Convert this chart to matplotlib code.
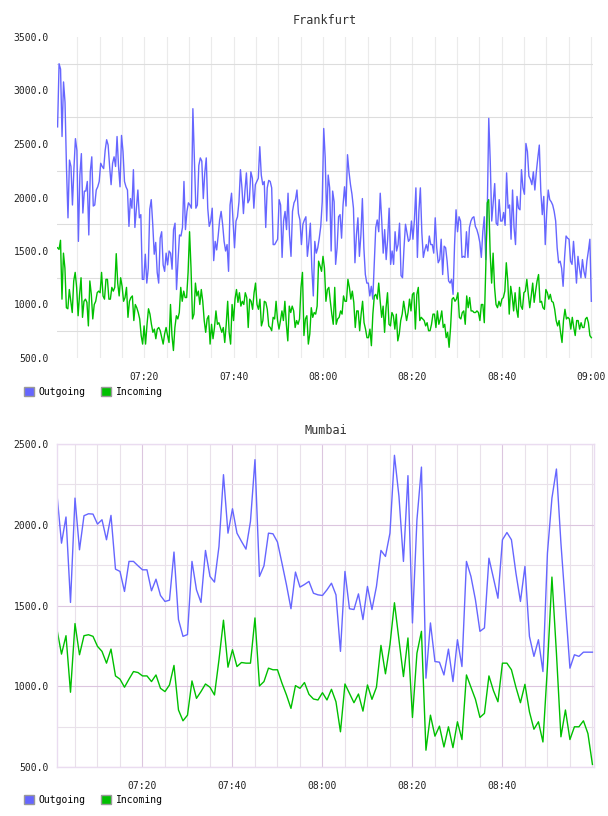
import numpy as np
import matplotlib
matplotlib.use("Agg")
import matplotlib.pyplot as plt
from matplotlib.ticker import MultipleLocator, FixedLocator, FuncFormatter
from matplotlib.patches import Patch

# Frankfurt, samples roughly every 20 s
frankfurt_out = [
    2660, 3250, 3200, 2570, 3080, 2890, 2270, 1810, 2350, 2290, 1930, 2270, 2550, 2440, 1590, 2210,
    2410, 1855, 2060, 2060, 2150, 1650, 2240, 2380, 1920, 1930, 2070, 2100, 2150, 2320, 2290, 2270,
    2440, 2540, 2490, 2290, 2120, 2320, 2380, 2290, 2570, 2290, 2100, 2580, 2430, 2150, 2100, 2070,
    1730, 1990, 1900, 2260, 1720, 1890, 2070, 1810, 1840, 1235, 1235, 1470, 1200, 1340, 1890, 1980,
    1750, 1470, 1580, 1300, 1200, 1620, 1680, 1370, 1310, 1480, 1370, 1500, 1480, 1330, 1700, 1760,
    1140, 1410, 1650, 1640, 1720, 2150, 1700, 1870, 1950, 1930, 1900,
    2830, 2370, 1900, 1930, 2300, 2370, 2340, 1990, 2230, 2370, 1900, 1730, 1780, 1900, 1410, 1590,
    1510, 1640, 1790, 1870, 1750, 1590, 1500, 1560, 1310, 1930, 2040, 1780, 1530, 1780, 1820, 1960,
    2260, 2090, 1850, 2060, 2230, 1950, 1980, 2240, 2180, 1900, 2120, 2150, 2180, 2475, 2210, 2120,
    2150, 1720, 2090, 2160, 2150, 2090, 1560, 1560, 1585, 1610, 1980, 1930, 1440, 1780, 1870, 1700,
    2040, 1650, 1450, 1870, 1950, 1980, 2070, 1850, 1790, 1560, 1750, 1790, 1820, 1450, 1580, 1760,
    1340, 1080, 1590, 1480, 1530, 1620, 1730, 1960,
    2645, 2370, 1780, 2210, 2090, 1500, 2060, 1960, 1375, 1530, 1820, 1840, 1620, 1930, 2100, 1920,
    2400, 2240, 2120, 2030, 1900, 1390, 1650, 1810, 1450, 1650, 1990, 1530, 1280, 1200, 1200, 1080,
    1170, 1050, 1375, 1720, 1790, 1680, 2040, 1790, 1480, 1700, 1420, 1610, 1900, 1375, 1500, 1375,
    1680, 1500, 1560, 1760, 1270, 1250, 1530, 1750, 1670, 1590, 1610, 1780, 1610, 1790, 2090, 1440,
    1870, 2090, 1670, 1440, 1510, 1560, 1500, 1640, 1560, 1560, 1480, 1810, 1530, 1390, 1420, 1610,
    1280, 1545, 1530, 1405, 1220, 1200, 1235, 1095, 1560,
    1885, 1680, 1820, 1780, 1440, 1450, 1440, 1680, 1440, 1720, 1780, 1810, 1820, 1730, 1700, 1650,
    1580, 1440, 1680, 1820, 1420, 1870, 2740, 2340, 1780, 1950, 2130, 1760, 1740, 1980, 1780, 1780,
    1860, 1740, 2230, 1900, 1930, 1610, 2070, 1720, 1560, 2010, 1900, 1885, 2260, 2090, 2030, 2505,
    2430, 2200, 2170, 2120, 2240, 2070, 2240, 2370, 2490, 2060, 1840, 2010, 1560, 1870, 2070, 1980,
    1960, 1930, 1870, 1780, 1530, 1390, 1405, 1340, 1170, 1440, 1640, 1620, 1610, 1405, 1375, 1590,
    1405, 1200, 1450, 1340, 1250, 1420, 1310, 1250, 1405, 1500, 1610, 1030,
]
frankfurt_in = [
    1530, 1515, 1600, 1050, 1480, 1340, 970, 960, 1140, 1030, 925, 1220, 1300, 1160, 895, 1095,
    1250, 880, 1030, 1050, 1020, 800, 1220, 1095, 865, 1000, 1030, 1110, 1125, 1110, 1300, 1080,
    1050, 1235, 1235, 1050, 1050, 1160, 1125, 1160, 1475, 1200, 1080, 1250, 1170, 1030, 1065, 1160,
    880, 1030, 1065, 1080, 850, 1000, 970, 925, 865, 710, 630, 800, 630, 815, 960, 910,
    815, 740, 770, 680, 770, 785, 755, 690, 630, 725, 785, 710, 645, 1000, 710, 570,
    785, 895, 865, 925, 1160, 1030, 1125, 1065, 1065, 1300,
    1680, 1340, 865, 910, 1200, 1080, 1125, 1000, 1140, 1030, 850, 740, 865, 895, 630, 815,
    680, 785, 940, 815, 830, 785, 740, 785, 645, 815, 1030, 740, 630, 1000, 850, 1050,
    1140, 1020, 1110, 985, 1030, 1000, 1110, 1065, 785, 1050, 1030, 955, 1110, 1200, 1000, 955,
    1050, 800, 850, 1030, 1020, 955, 800, 785, 755, 880, 865, 1030, 850, 770, 850, 940,
    850, 1030, 815, 660, 985, 925, 985, 940, 785, 850, 815, 865, 1160, 1300, 710, 865,
    895, 630, 725, 970, 880, 925, 910, 985, 1405, 1360,
    1310, 1450, 1340, 1030, 1140, 1160, 1030, 910, 815, 1160, 815, 865, 880, 940, 910, 1080,
    1030, 1030, 1235, 1160, 1050, 1125, 1020, 785, 940, 940, 755, 910, 1030, 830, 770, 690,
    690, 770, 615, 910, 1080, 1095, 1050, 1200, 1030, 880, 985, 740, 970, 1110, 815, 800,
    925, 895, 770, 910, 660, 725, 850, 910, 1030, 940, 850, 925, 1050, 940, 1095, 1110,
    770, 1095, 1160, 850, 880, 865, 850, 800, 830, 755, 755, 815, 910, 910, 785, 940,
    815, 865, 940, 785, 815, 690, 740, 600, 785, 1050, 1065,
    1030, 1050, 1110, 880, 865, 925, 940, 815, 1080, 970, 1065, 940, 940, 925, 925, 940,
    925, 850, 1000, 1000, 830, 1340, 1950, 1980, 1480, 1200, 1480, 1160, 1000, 970, 1030, 985,
    1050, 1065, 1125, 1390, 1220, 910, 1170, 1080, 940, 1110, 955, 880, 1160, 985, 955, 1110,
    1125, 1235, 1095, 970, 1080, 1200, 1020, 1125, 1220, 1280, 1020, 1030, 970, 955, 1140, 1110,
    1050, 1095, 1030, 1020, 955, 850, 800, 850, 740, 645, 850, 955, 865, 880, 865, 770,
    880, 785, 710, 850, 850, 770, 830, 785, 785, 865, 880, 830, 710, 690,
]

# Mumbai, one sample a minute from 07:01
mumbai_out = [
    2186, 1886, 2048, 1519, 2165, 1845, 2056, 2068, 2066, 2004, 2031, 1907, 2058, 1725, 1711, 1587,
    1773, 1773, 1746, 1721, 1721, 1591, 1663, 1562, 1525, 1533, 1831, 1413, 1309, 1320, 1773, 1597,
    1519, 1841, 1680, 1645, 1866, 2310, 1948, 2099, 1948, 1897, 1849, 2021, 2403, 1680, 1746, 1948,
    1944, 1893, 1762, 1628, 1480, 1707, 1614, 1630, 1649, 1576, 1566, 1562, 1597, 1638, 1566, 1216,
    1711, 1480, 1475, 1572, 1413, 1618, 1475, 1618, 1841, 1804, 1948, 2430, 2176, 1773, 2304, 1392,
    2031, 2357, 1050, 1392, 1153, 1149, 1070, 1230, 1029, 1288, 1122, 1773, 1680, 1535, 1340, 1361,
    1793, 1670, 1545, 1907, 1952, 1907, 1700, 1525, 1742, 1309, 1185, 1288, 1091, 1824, 2165, 2345,
    1886, 1500, 1112, 1195, 1185, 1211, 1211, 1211,
]
mumbai_in = [
    1351, 1199, 1313, 963, 1388, 1195, 1313, 1319, 1309, 1247, 1216, 1143, 1230, 1064, 1044, 994,
    1044, 1091, 1085, 1064, 1064, 1029, 1070, 987, 967, 1008, 1129, 853, 786, 821, 1033, 925,
    967, 1014, 994, 946, 1164, 1409, 1118, 1226, 1122, 1147, 1143, 1143, 1423, 1002, 1029, 1112,
    1102, 1102, 1019, 946, 863, 1004, 987, 1023, 950, 921, 915, 960, 915, 981, 904, 718,
    1014, 956, 898, 952, 846, 1008, 919, 994, 1253, 1077, 1257, 1517, 1288, 1060, 1299, 807,
    1205, 1340, 604, 821, 691, 753, 624, 749, 620, 780, 670, 1070, 994, 919, 807, 832,
    1064, 973, 904, 1143, 1143, 1102, 994, 898, 1012, 842, 734, 780, 655, 1122, 1676, 1205,
    687, 853, 670, 749, 749, 786, 707, 516,
]

series_names = ["Outgoing", "Incoming"]
tick_minutes = [20, 40, 60, 80, 100, 120]   # minutes after 07:00

BLUE = "#6666ff"
GREEN = "#00c000"
FONT = "DejaVu Sans Mono"


def hhmm(m, pos=None):
    m = int(round(m))
    return f"{7 + m // 60:02d}:{m % 60:02d}"


def y_fmt(v, pos=None):
    return f"{v:.1f}"


frank_t_out = np.linspace(0.6, 120.1, len(frankfurt_out))
frank_t_in = np.linspace(0.6, 120.1, len(frankfurt_in))
mumbai_t = 1 + np.arange(len(mumbai_out))

plt.rcParams["font.family"] = FONT
plt.rcParams["font.size"] = 7

fig = plt.figure(figsize=(6.08, 8.16), dpi=100)
ax1 = fig.add_axes([57 / 608, 1 - 358 / 816, 536 / 608, 321 / 816])
ax2 = fig.add_axes([57 / 608, 1 - 767 / 816, 537 / 608, 323 / 816])

# Frankfurt
ax1.plot(frank_t_out, frankfurt_out, color=BLUE, lw=1.0)
ax1.plot(frank_t_in, frankfurt_in, color=GREEN, lw=1.0)
ax1.set_xlim(0.47, 120.47)
ax1.set_ylim(500, 3500)
ax1.yaxis.set_major_locator(MultipleLocator(500))
ax1.yaxis.set_minor_locator(FixedLocator(np.arange(750, 3500, 500)))
ax1.yaxis.set_major_formatter(FuncFormatter(y_fmt))
ax1.xaxis.set_major_locator(FixedLocator(tick_minutes))
ax1.xaxis.set_minor_locator(MultipleLocator(5))
ax1.xaxis.set_major_formatter(FuncFormatter(hhmm))
ax1.grid(which="minor", axis="y", color="#dddddd", lw=0.8)
ax1.grid(which="both", axis="x", color="#ebebeb", lw=0.8)
ax1.set_axisbelow(True)
for s in ax1.spines.values():
    s.set_visible(False)
ax1.set_title("Frankfurt", fontsize=8.5, color="#333333", pad=9)

# Mumbai
ax2.plot(mumbai_t, mumbai_out, color=BLUE, lw=1.0)
ax2.plot(mumbai_t, mumbai_in, color=GREEN, lw=1.0)
ax2.set_xlim(1.0, 120.35)
ax2.set_ylim(500, 2500)
ax2.yaxis.set_major_locator(MultipleLocator(500))
ax2.yaxis.set_minor_locator(MultipleLocator(250))
ax2.yaxis.set_major_formatter(FuncFormatter(y_fmt))
ax2.xaxis.set_major_locator(FixedLocator(tick_minutes[:-1]))
ax2.xaxis.set_minor_locator(MultipleLocator(5))
ax2.xaxis.set_major_formatter(FuncFormatter(hhmm))
ax2.grid(which="major", color="#dcc6df", lw=0.8)
ax2.grid(which="minor", color="#e9e1ea", lw=0.8)
ax2.set_axisbelow(True)
for s in ax2.spines.values():
    s.set_color("#eadcf0")
    s.set_linewidth(1.0)
ax2.set_title("Mumbai", fontsize=8.5, color="#333333", pad=7.5)

for ax in (ax1, ax2):
    ax.tick_params(which="both", length=0, colors="#222222", labelsize=7)
    ax.tick_params(axis="x", pad=10)
    ax.tick_params(axis="y", pad=6)

handles = [Patch(facecolor=c, edgecolor="#999999", label=n)
           for c, n in zip([BLUE, GREEN], series_names)]
for ycen in (392, 800):
    fig.legend(handles=handles, loc="center left",
               bbox_to_anchor=(24 / 608, 1 - ycen / 816), ncol=2, frameon=False,
               handlelength=1.0, handleheight=1.0, handletextpad=0.5,
               columnspacing=1.6, borderpad=0, borderaxespad=0,
               prop={"family": FONT, "size": 7})

fig.savefig("out.png", dpi=100)
